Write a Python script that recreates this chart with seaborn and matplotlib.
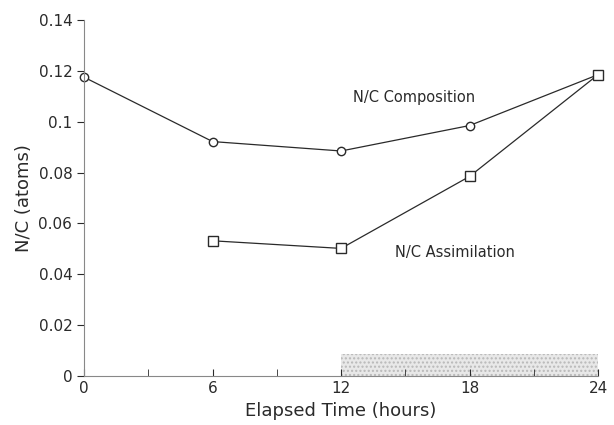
import seaborn as sns
import pandas as pd
import matplotlib.pyplot as plt

# elapsed time (hours) and N/C ratios
hours_comp = [0, 6, 12, 18, 24]
nc_composition = [0.1175, 0.0922, 0.0885, 0.0985, 0.1185]
hours_assim = [6, 12, 18, 24]
nc_assimilation = [0.0532, 0.0502, 0.0785, 0.1185]

# dark period shown as a stippled band on the time axis
dark_period = [12, 24]
dark_band_height = 0.0088

df = pd.concat([
    pd.DataFrame({'hours': hours_comp, 'nc': nc_composition, 'series': 'Composition'}),
    pd.DataFrame({'hours': hours_assim, 'nc': nc_assimilation, 'series': 'Assimilation'}),
])

sns.set_style('ticks')
plt.rcParams['font.family'] = ['DejaVu Sans']

fig = plt.figure(figsize=(6.14, 4.25), dpi=100)
ax = fig.add_axes([0.137, 0.115, 0.837, 0.838])

ink = '#2a2a2a'
sns.lineplot(data=df, x='hours', y='nc', hue='series', style='series',
             palette={'Composition': ink, 'Assimilation': ink},
             markers={'Composition': 'o', 'Assimilation': 's'}, dashes=False,
             markerfacecolor='white', markeredgecolor=ink, markeredgewidth=1.0,
             linewidth=0.9, legend=False, ax=ax)
for line in ax.lines:
    line.set_markersize(6 if line.get_marker() == 'o' else 7)
    line.set_clip_on(False)

ax.fill_between(dark_period, 0, dark_band_height, facecolor='#e8e8e8',
                edgecolor='#b8b8b8', hatch='....', linewidth=0, zorder=0)

ax.text(15.4, 0.1095, 'N/C Composition', ha='center', va='center', fontsize=10.5, color=ink)
ax.text(17.3, 0.0487, 'N/C Assimilation', ha='center', va='center', fontsize=10.5, color=ink)

ax.set_xlim(0, 24)
ax.set_ylim(0, 0.14)
ax.set_xticks([0, 6, 12, 18, 24])
ax.set_xticks([3, 9, 15, 21], minor=True)
ax.set_yticks([0, 0.02, 0.04, 0.06, 0.08, 0.1, 0.12, 0.14])
ax.set_yticklabels(['0', '0.02', '0.04', '0.06', '0.08', '0.1', '0.12', '0.14'])
ax.tick_params(axis='x', which='both', direction='in', length=5, colors=ink, labelsize=11)
ax.tick_params(axis='y', direction='out', length=5, colors=ink, labelsize=11)

sns.despine(ax=ax)
ax.spines['left'].set_color('#888888')
ax.spines['bottom'].set_color('#888888')

ax.set_xlabel('Elapsed Time (hours)', fontsize=13, color=ink)
ax.set_ylabel('N/C (atoms)', fontsize=13, color=ink)

plt.savefig('out.png', dpi=100)
